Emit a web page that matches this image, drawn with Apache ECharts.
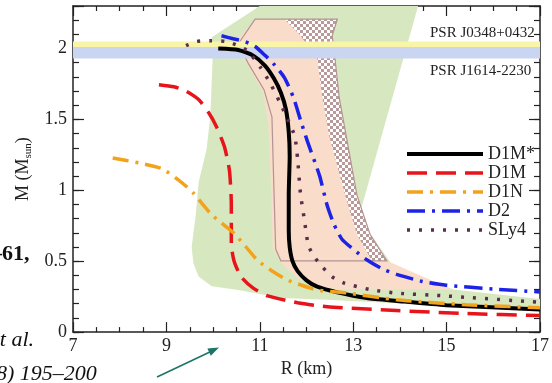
<!DOCTYPE html>
<html>
<head>
<meta charset="utf-8">
<script src="https://cdn.jsdelivr.net/npm/echarts@6/dist/echarts.min.js"></script>
<style>
html, body { margin: 0; padding: 0; background: #fff; }
#chart { width: 552px; height: 383px; }
</style>
</head>
<body>
<div id="chart"></div>
<script>
// ---- Mass–radius curves: R in km, M in solar masses ----
const d1mStarR = [10.11, 10.54, 10.86, 11.11, 11.30, 11.45, 11.56, 11.62, 11.64, 11.62, 11.62, 11.64, 11.70, 11.81, 12.00, 12.23, 12.66, 13.29, 13.93, 14.99, 17.0];
const d1mStarM = [2.00, 1.99, 1.95, 1.88, 1.79, 1.69, 1.57, 1.41, 1.24, 0.97, 0.72, 0.60, 0.50, 0.43, 0.365, 0.32, 0.28, 0.24, 0.22, 0.19, 0.16];

const d1mR = [8.84, 9.16, 9.42, 9.69, 9.90, 10.07, 10.24, 10.35, 10.39, 10.39, 10.45, 10.60, 10.86, 11.17, 11.81, 12.44, 13.93, 15.41, 17.0];
const d1mM = [1.745, 1.73, 1.70, 1.64, 1.55, 1.45, 1.31, 1.14, 0.90, 0.62, 0.50, 0.39, 0.31, 0.255, 0.207, 0.179, 0.152, 0.131, 0.117];

const d1nR = [7.85, 8.42, 8.91, 9.33, 9.58, 9.97, 10.47, 10.96, 11.28, 11.60, 12.23, 12.87, 13.93, 15.41, 17.0];
const d1nM = [1.228, 1.193, 1.152, 1.055, 0.979, 0.828, 0.690, 0.503, 0.428, 0.366, 0.297, 0.276, 0.228, 0.193, 0.172];

const d2R = [10.18, 10.43, 10.69, 10.90, 11.11, 11.32, 11.53, 11.72, 11.87, 12.02, 12.28, 12.44, 12.59, 12.76, 13.02, 13.29, 13.61, 13.93, 14.46, 14.99, 16.05, 17.0];
const d2M = [2.09, 2.069, 2.048, 2.014, 1.952, 1.883, 1.793, 1.655, 1.497, 1.345, 1.103, 0.897, 0.759, 0.655, 0.579, 0.510, 0.448, 0.407, 0.359, 0.331, 0.303, 0.283];

const sly4R = [9.42, 9.65, 9.97, 10.26, 10.54, 10.75, 11.03, 11.24, 11.43, 11.60, 11.75, 11.81, 11.87, 11.96, 12.04, 12.17, 12.34, 12.55, 12.81, 13.36, 13.93, 14.99, 17.0];
const sly4M = [2.02, 2.05, 2.055, 2.05, 2.02, 1.98, 1.86, 1.745, 1.62, 1.50, 1.38, 1.22, 0.98, 0.78, 0.61, 0.53, 0.46, 0.39, 0.345, 0.30, 0.275, 0.255, 0.21];

// ---- Observational / theoretical constraint regions (outlines in R, M) ----
const greenR = [11.00, 14.39, 13.12, 13.82, 15.14, 17.0, 17.0, 14.99, 12.44, 11.45, 10.54, 9.97, 9.69, 9.58, 9.54, 9.63, 9.69, 9.86, 9.94, 9.99, 9.97];
const greenM = [2.30, 2.30, 0.81, 0.48, 0.30, 0.234, 0.166, 0.186, 0.228, 0.241, 0.297, 0.324, 0.393, 0.483, 0.60, 0.83, 1.055, 1.29, 1.52, 1.93, 2.08];

const pinkR = [10.90, 12.66, 12.55, 12.61, 12.70, 13.08, 13.36, 13.72, 15.14, 13.93, 12.66, 12.13, 11.81, 11.60, 11.47, 11.28, 11.24, 11.18, 11.07, 10.75, 10.50, 10.54];
const pinkM = [2.207, 2.207, 2.09, 1.93, 1.655, 0.966, 0.69, 0.503, 0.297, 0.303, 0.303, 0.331, 0.379, 0.441, 0.483, 0.586, 1.034, 1.483, 1.69, 1.876, 2.0, 2.069];

const bandOutlineR = [10.90, 12.66, 12.55, 12.61, 12.70, 13.08, 13.36, 13.72, 11.45, 11.34, 11.30, 11.26, 11.09, 10.75, 10.54];
const bandOutlineM = [2.207, 2.207, 2.09, 1.93, 1.655, 0.966, 0.69, 0.503, 0.503, 0.586, 1.034, 1.517, 1.71, 1.897, 2.034];

const checkerR = [12.66, 12.55, 12.61, 12.70, 13.08, 13.36, 13.72, 13.40, 13.08, 12.83, 12.49, 12.34, 12.23, 11.85, 11.53];
const checkerM = [2.207, 2.09, 1.93, 1.655, 0.966, 0.69, 0.503, 0.503, 0.69, 0.966, 1.379, 1.655, 1.93, 2.10, 2.207];

// ---- Pulsar mass bands ----
const pulsarNames = ['PSR J0348+0432', 'PSR J1614-2230'];
const pulsarLow = [1.97, 1.93];
const pulsarHigh = [2.05, 2.01];

// ---- Axes ----
const rMin = 7, rMax = 17, rStep = 2;
const mMin = 0, mMax = 2.3, mStep = 0.5, mMinorStep = 0.1;

const serif = '"Liberation Serif", "DejaVu Serif", serif';
const ink = '#222';

function pairs(xs, ys) { return xs.map((x, i) => [x, ys[i]]); }

function regionSeries(xs, ys, style) {
  return {
    type: 'custom',
    coordinateSystem: 'cartesian2d',
    silent: true,
    clip: true,
    data: [[xs[0], ys[0]]],
    renderItem: (params, api) => ({
      type: 'polygon',
      shape: { points: xs.map((x, i) => api.coord([x, ys[i]])) },
      style: style
    })
  };
}

// checkerboard tile for the hatched part of the band
const tile = document.createElement('canvas');
tile.width = 6; tile.height = 6;
const tg = tile.getContext('2d');
tg.fillStyle = '#ffffff'; tg.fillRect(0, 0, 6, 6);
tg.fillStyle = '#b89a9a'; tg.fillRect(0, 0, 3, 3); tg.fillRect(3, 3, 3, 3);

const bandColors = ['#f8f5a6', '#c9d5f1'];
const bandSeries = pulsarLow.map((lo, i) =>
  regionSeries([rMin, rMax, rMax, rMin], [lo, lo, pulsarHigh[i], pulsarHigh[i]], { fill: bandColors[i] })
);

const tickLine = { color: ink, width: 1.2 };
const axisLine = { show: true, onZero: false, lineStyle: { color: ink, width: 1.5 } };

function yAxisPair(pos, withLabels) {
  return [
    {
      type: 'value', position: pos, min: mMin, max: mMax, interval: mStep,
      axisLine: axisLine,
      axisTick: { show: true, inside: true, length: 11, lineStyle: tickLine },
      splitLine: { show: false },
      axisLabel: withLabels ? {
        show: true, margin: 6, fontFamily: serif, fontSize: 18, color: ink,
        formatter: v => (Math.abs(v * 2 - Math.round(v * 2)) < 1e-6 && v <= 2.0001) ? String(v) : ''
      } : { show: false },
      name: withLabels ? '{a|M (M}{s|sun}{a|)}' : '',
      nameLocation: 'middle', nameRotate: 90, nameGap: 32,
      nameTextStyle: {
        rich: {
          a: { fontFamily: serif, fontSize: 18, color: ink },
          s: { fontFamily: serif, fontSize: 11, color: ink, padding: [9, 0, 0, 0] }
        }
      }
    },
    {
      type: 'value', position: pos, min: mMin, max: mMax, interval: mMinorStep,
      axisLine: { show: false },
      axisTick: { show: true, inside: true, length: 6, lineStyle: tickLine },
      splitLine: { show: false },
      axisLabel: { show: false }
    }
  ];
}

function xAxisDef(pos, withLabels) {
  return {
    type: 'value', position: pos, min: rMin, max: rMax, interval: rStep,
    axisLine: axisLine,
    axisTick: { show: true, inside: true, length: 10, lineStyle: tickLine },
    minorTick: { show: true, splitNumber: 4, length: 5, lineStyle: tickLine },
    splitLine: { show: false },
    axisLabel: withLabels ? { show: true, margin: 5, fontFamily: serif, fontSize: 18, color: ink } : { show: false },
    name: withLabels ? 'R (km)' : '',
    nameLocation: 'middle', nameGap: 23,
    nameTextStyle: { fontFamily: serif, fontSize: 18, color: ink }
  };
}

function curve(name, xs, ys, lineStyle) {
  return {
    name: name, type: 'line', data: pairs(xs, ys),
    symbol: 'none', showSymbol: false, smooth: 0.2,
    lineStyle: lineStyle, z: 5
  };
}

const chart = echarts.init(document.getElementById('chart'), null, { renderer: 'canvas' });
chart.setOption({
  animation: false,
  backgroundColor: '#fff',
  grid: { left: 73, right: 7, top: 6, bottom: 43 },
  xAxis: [xAxisDef('bottom', true), xAxisDef('top', false)],
  yAxis: yAxisPair('left', true).concat(yAxisPair('right', false)),
  legend: {
    orient: 'vertical', left: 400, top: 140,
    itemWidth: 76, itemHeight: 12, itemGap: 1,
    itemStyle: { color: 'rgba(0,0,0,0)', borderWidth: 0, opacity: 0 },
    textStyle: { fontFamily: serif, fontSize: 18, color: ink, lineHeight: 18 },
    data: [
      { name: 'D1M*', lineStyle: { width: 4 } },
      { name: 'D1M', lineStyle: { width: 3.5 } },
      { name: 'D1N', lineStyle: { width: 3.5 } },
      { name: 'D2', lineStyle: { width: 3.5 } },
      { name: 'SLy4', lineStyle: { width: 3.5 } }
    ]
  },
  series: [
    regionSeries(greenR, greenM, { fill: '#d7e8c0' }),
    regionSeries(pinkR, pinkM, { fill: '#f9dcc9' }),
    regionSeries(checkerR, checkerM, { fill: { image: tile, repeat: 'repeat' } }),
    regionSeries(bandOutlineR, bandOutlineM, { fill: 'none', stroke: '#b39393', lineWidth: 1.2 })
  ].concat(bandSeries).concat([
    curve('D1M*', d1mStarR, d1mStarM, { color: '#000000', width: 4, type: 'solid' }),
    curve('D1M', d1mR, d1mM, { color: '#e8141c', width: 3.5, type: [20, 9] }),
    curve('D1N', d1nR, d1nM, { color: '#f2a31b', width: 3.5, type: [16, 7, 3, 7] }),
    curve('D2', d2R, d2M, { color: '#1c22e6', width: 3.5, type: [18, 7, 3, 7] }),
    curve('SLy4', sly4R, sly4M, { color: '#5c2b4d', width: 3.5, type: [3, 9] })
  ]),
  graphic: [
    { type: 'text', x: 430, y: 33, z: 10, style: { text: pulsarNames[0], font: '15px ' + serif, fill: ink, verticalAlign: 'middle' } },
    { type: 'text', x: 430, y: 71, z: 10, style: { text: pulsarNames[1], font: '15px ' + serif, fill: ink, verticalAlign: 'middle' } },
    { type: 'text', x: -9, y: 254, style: { text: '–61,', font: 'bold 22px ' + serif, fill: '#111', verticalAlign: 'middle' } },
    { type: 'text', x: -10, y: 340, style: { text: 'et al.', font: 'italic 22px ' + serif, fill: '#111', verticalAlign: 'middle' } },
    { type: 'text', x: -4, y: 374, style: { text: '8) 195–200', font: 'italic 22px ' + serif, fill: '#111', verticalAlign: 'middle' } },
    { type: 'line', shape: { x1: 157, y1: 377, x2: 212, y2: 351 }, style: { stroke: '#1d7565', lineWidth: 1.6 } },
    { type: 'polygon', shape: { points: [[219, 347.5], [207.4, 348.6], [210.8, 355.8]] }, style: { fill: '#1d7565' } }
  ]
});
</script>
</body>
</html>
